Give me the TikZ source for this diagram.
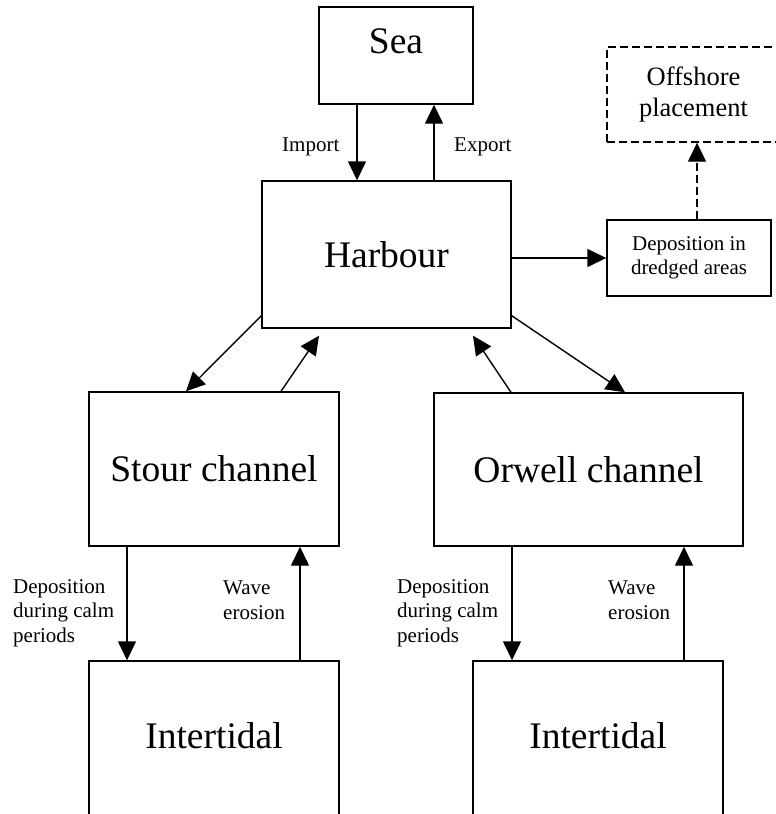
\documentclass[tikz,border=0pt]{standalone}
\usepackage{fontspec}
\setmainfont{Liberation Serif}
\usetikzlibrary{arrows.meta}

\begin{document}
\begin{tikzpicture}[x=1pt, y=-1pt,
  box/.style={draw, line width=1.4pt, inner sep=0pt, align=center},
  big/.style={font=\fontsize{37.5}{43}\selectfont},
  mid/.style={font=\fontsize{26.5}{31}\selectfont},
  small/.style={font=\fontsize{21}{24.5}\selectfont},
  flow/.style={line width=1.4pt, -{Triangle[length=19pt,width=18pt]}},
  dashflow/.style={flow, dash pattern=on 8pt off 4pt}]
  \useasboundingbox (0,0) rectangle (776,814);
  % boxes
  \node[box, big, minimum width=154pt, minimum height=97pt,
        text height=26pt, text depth=31pt] (sea) at (396,55.5) {Sea};
  \node[box, big, minimum width=249pt, minimum height=147pt] (harbour) at (386.5,254.5) {Harbour};
  \node[box, small, minimum width=164pt, minimum height=76pt] (dredged) at (689,258)
    {Deposition in\\dredged areas};
  \node[box, mid, dash pattern=on 8pt off 4pt, minimum width=173pt, minimum height=95pt]
    (offshore) at (693.5,94.5) {Offshore\\placement};
  \node[box, big, minimum width=250pt, minimum height=154pt] (stour) at (214,469) {Stour channel};
  \node[box, big, minimum width=309pt, minimum height=153pt] (orwell) at (588.5,469.5) {Orwell channel};
  % intertidal boxes run off the bottom edge
  \node[box, big, minimum width=250pt, minimum height=156pt, text depth=8pt]
    (tidalS) at (214,739) {Intertidal};
  \node[box, big, minimum width=250pt, minimum height=156pt, text depth=8pt]
    (tidalO) at (598,739) {Intertidal};
  % sea <-> harbour
  \draw[flow] ([xshift=-39pt]sea.south) -- ([xshift=-39pt]sea.south |- harbour.north);
  \draw[flow] ([xshift=38pt]sea.south |- harbour.north) -- ([xshift=38pt]sea.south);
  \node[small, anchor=west, inner sep=0pt] (import) at (282,147) {Import};
  \node[small, anchor=west, inner sep=0pt] (export) at (454,147) {Export};
  % dredging
  \draw[flow] (harbour.east |- dredged.west) -- (dredged.west);
  \draw[dashflow] ([xshift=8pt]dredged.north) -- ([xshift=8pt]dredged.north |- offshore.south);
  % harbour <-> channels
  \draw[flow] ([yshift=13pt]harbour.south west) -- ([xshift=-28pt]stour.north);
  \draw[flow] ([xshift=67pt]stour.north) -- ([xshift=-67.5pt,yshift=-7pt]harbour.south);
  \draw[flow] ([yshift=13pt]harbour.south east) -- ([xshift=36.5pt]orwell.north);
  \draw[flow] ([xshift=-77.5pt]orwell.north) -- ([xshift=86.5pt,yshift=-7pt]harbour.south);
  % channels <-> intertidal
  \draw[flow] ([xshift=-87pt]stour.south) -- ([xshift=-87pt]stour.south |- tidalS.north);
  \draw[flow] ([xshift=86pt]stour.south |- tidalS.north) -- ([xshift=86pt]stour.south);
  \draw[flow] ([xshift=-76.5pt]orwell.south) -- ([xshift=-76.5pt]orwell.south |- tidalO.north);
  \draw[flow] ([xshift=95.5pt]orwell.south |- tidalO.north) -- ([xshift=95.5pt]orwell.south);
  \node[small, anchor=west, align=left, inner sep=0pt] (depS) at (13,613)
    {Deposition\\during calm\\periods};
  \node[small, anchor=west, align=left, inner sep=0pt] (waveS) at (223,600) {Wave\\erosion};
  \node[small, anchor=west, align=left, inner sep=0pt] (depO) at (397,613)
    {Deposition\\during calm\\periods};
  \node[small, anchor=west, align=left, inner sep=0pt] (waveO) at (608,600) {Wave\\erosion};
\end{tikzpicture}
\end{document}
